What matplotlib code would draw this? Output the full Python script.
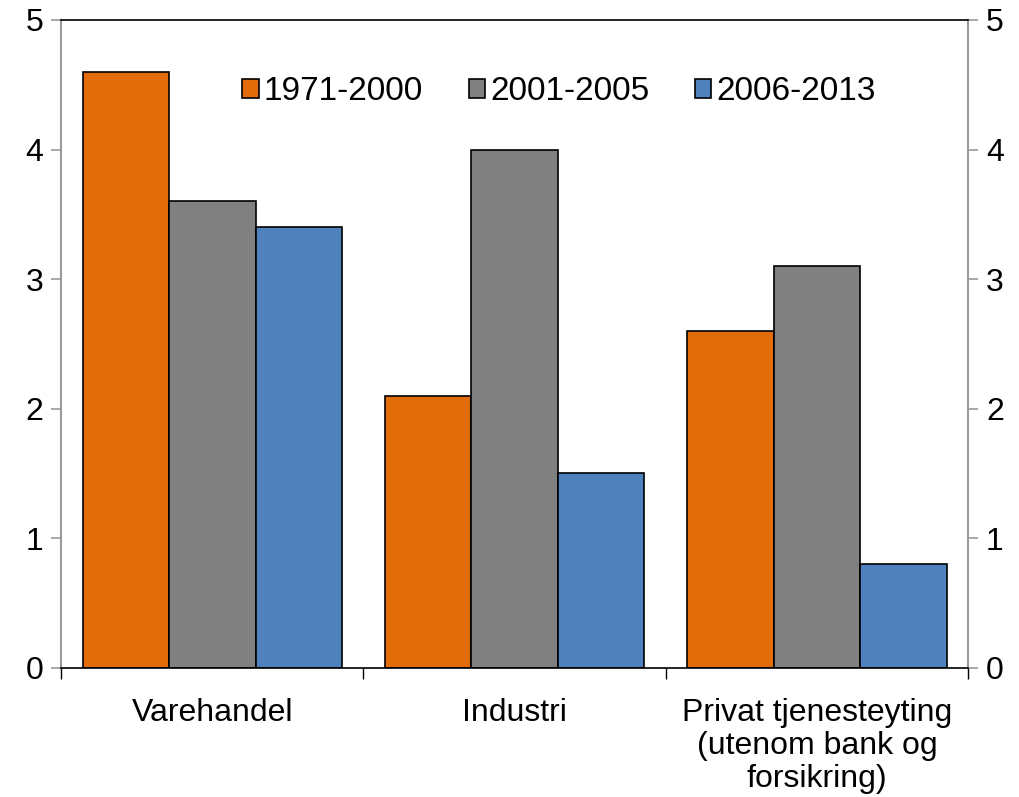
import numpy as np
import matplotlib
matplotlib.use("Agg")
import matplotlib.pyplot as plt

plt.rcParams['font.family'] = ['Liberation Sans', 'DejaVu Sans']

categories = ["Varehandel", "Industri", "Privat tjenesteyting\n(utenom bank og\nforsikring)"]
series_names = ["1971-2000", "2001-2005", "2006-2013"]
s1971 = [4.6, 2.1, 2.6]
s2001 = [3.6, 4.0, 3.1]
s2006 = [3.4, 1.5, 0.8]
colors = ["#E36C0A", "#808080", "#4F81BD"]

fig = plt.figure(figsize=(10.19, 7.97), dpi=100)
ax = fig.add_axes([0.060, 0.162, 0.890, 0.813])

x = np.arange(len(categories))
w = 0.286
for i, (vals, name) in enumerate(zip([s1971, s2001, s2006], series_names)):
    ax.bar(x + (i - 1) * w, vals, w, color=colors[i], edgecolor="black",
           linewidth=1.2, label=name, zorder=2)

ax.set_xlim(-0.5, 2.5)
ax.set_ylim(0, 5)
ax.set_yticks(range(6))

ax.set_xticks(x)
ax.set_xticklabels(categories, fontsize=23, linespacing=1.12)
ax.tick_params(axis="x", which="major", length=0, pad=22)
ax.set_xticks([-0.5, 0.5, 1.5, 2.5], minor=True)
ax.tick_params(axis="x", which="minor", length=8, width=1, color="black", direction="out")

ax.tick_params(axis="y", which="major", labelsize=23, length=7, width=1.2,
               color="#9A9A9A", left=True, right=True, labelleft=True,
               labelright=True, pad=6)

for side in ["left", "right"]:
    ax.spines[side].set_color("#9A9A9A")
    ax.spines[side].set_linewidth(1.5)
ax.spines["top"].set_color("black")
ax.spines["bottom"].set_color("black")
ax.spines["top"].set_linewidth(1.2)
ax.spines["bottom"].set_linewidth(1.2)

ax.legend(loc="upper center", bbox_to_anchor=(0.549, 0.96), ncol=3, frameon=False,
          fontsize=24, handlelength=0.5, handleheight=0.5, handletextpad=0.15,
          columnspacing=1.36)

fig.savefig("out.png", dpi=100)
